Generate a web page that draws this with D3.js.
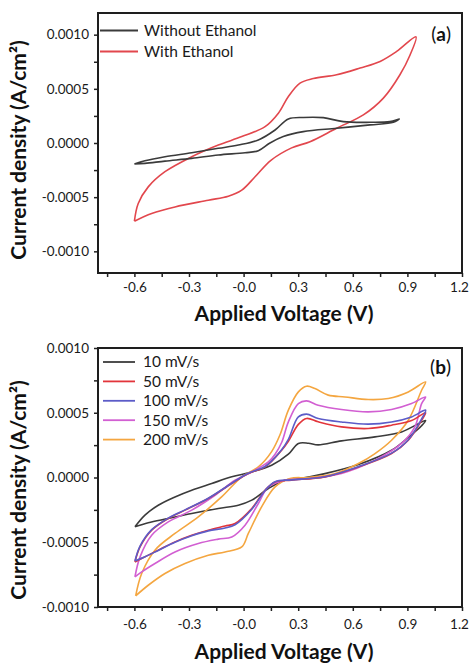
<!DOCTYPE html>
<html>
<head>
<meta charset="utf-8">
<script src="https://cdn.jsdelivr.net/npm/d3@7"></script>
<style>
  html, body { margin: 0; padding: 0; background: #fff; }
  svg { display: block; }
  text { font-family: Lato, "Open Sans", sans-serif; }
</style>
</head>
<body>
<svg id="chart" width="469" height="663"></svg>
<script>
// ---- axis ticks and labels ----
const xTicks = [-0.75, -0.6, -0.45, -0.3, -0.15, 0, 0.15, 0.3, 0.45, 0.6, 0.75, 0.9, 1.05, 1.2];
const xLabelValues = [-0.6, -0.3, 0, 0.3, 0.6, 0.9, 1.2];
const xLabels = ["-0.6", "-0.3", "-0.0", "0.3", "0.6", "0.9", "1.2"];
const yTicks = [-0.001, -0.00075, -0.0005, -0.00025, 0, 0.00025, 0.0005, 0.00075, 0.001];
const yLabelValues = [0.001, 0.0005, 0, -0.0005, -0.001];
const yLabels = ["0.0010", "0.0005", "0.0000", "-0.0005", "-0.0010"];

// ---- panel (a): with / without ethanol (closed CV loops, V vs A/cm²) ----
const seriesA = ["Without Ethanol", "With Ethanol"];
const voltWithout = [-0.6, -0.542, -0.432, -0.285, -0.139, -0.029, 0.081, 0.173, 0.246, 0.328, 0.438, 0.548, 0.695, 0.804, 0.856,
  0.823, 0.695, 0.511, 0.328, 0.218, 0.145, 0.081, 0.008, -0.139, -0.285, -0.432, -0.542, -0.6];
const currWithout = [-0.000194, -0.000164, -0.000127, -0.00009, -0.000049, -0.000019, 0.000028, 0.00012, 0.000222, 0.000236, 0.000234, 0.000197, 0.000191, 0.000197, 0.000222,
  0.000191, 0.000167, 0.000136, 0.000105, 0.000059, 0.0, -0.000071, -0.00009, -0.000111, -0.000142, -0.000167, -0.000188, -0.000194];
const voltWith = [-0.6, -0.579, -0.524, -0.432, -0.285, -0.139, -0.01, 0.118, 0.191, 0.246, 0.31, 0.383, 0.511, 0.64, 0.75, 0.841, 0.947,
  0.914, 0.859, 0.768, 0.658, 0.511, 0.365, 0.264, 0.15, 0.063, -0.01, -0.084, -0.194, -0.377, -0.505, -0.6];
const currWith = [-0.000722, -0.000559, -0.000405, -0.000265, -0.000127, -0.000019, 0.000059, 0.000151, 0.000275, 0.000429, 0.000553, 0.000595, 0.00063, 0.000692, 0.000753, 0.000845, 0.00098,
  0.00081, 0.00063, 0.000414, 0.000259, 0.000136, 0.000012, -0.000045, -0.00016, -0.000312, -0.000435, -0.000491, -0.000528, -0.00059, -0.000651, -0.000722];

// ---- panel (b): scan-rate series ----
const seriesB = ["10 mV/s", "50 mV/s", "100 mV/s", "150 mV/s", "200 mV/s"];
const volt10 = [-0.597, -0.542, -0.469, -0.377, -0.285, -0.175, -0.065, 0.045, 0.154, 0.246, 0.301, 0.356, 0.41, 0.538, 0.722, 0.868, 1.0,
  0.978, 0.905, 0.813, 0.631, 0.447, 0.3, 0.227, 0.136, 0.045, -0.029, -0.139, -0.285, -0.414, -0.524, -0.597];
const curr10 = [-0.000381, -0.000291, -0.000214, -0.00015, -0.000098, -0.000046, 0.000005, 0.000043, 0.000095, 0.00018, 0.000263, 0.000265, 0.000252, 0.000283, 0.000314, 0.000352, 0.00044,
  0.0004, 0.00031, 0.00021, 0.0001, 0.00003, -0.00001, -0.000021, -0.000085, -0.000175, -0.000214, -0.000239, -0.000278, -0.000317, -0.00035, -0.000381];
const volt50 = [-0.597, -0.569, -0.505, -0.414, -0.322, -0.194, -0.065, 0.026, 0.118, 0.209, 0.246, 0.301, 0.346, 0.41, 0.538, 0.685, 0.813, 0.923, 1.0,
  0.978, 0.905, 0.813, 0.631, 0.447, 0.264, 0.173, 0.118, 0.045, -0.047, -0.102, -0.194, -0.285, -0.377, -0.469, -0.542, -0.597];
const curr50 = [-0.000652, -0.000536, -0.000407, -0.000317, -0.000252, -0.000162, -0.000046, 0.000031, 0.000082, 0.000211, 0.00028, 0.00041, 0.000456, 0.00043, 0.000391, 0.000378, 0.000404, 0.00044, 0.0005,
  0.000442, 0.000288, 0.000185, 0.000082, 0.000005, -0.00002, -0.000034, -0.000098, -0.000239, -0.000355, -0.000375, -0.000407, -0.000446, -0.000497, -0.000561, -0.000613, -0.000652];
const volt100 = [-0.597, -0.569, -0.505, -0.414, -0.322, -0.194, -0.065, 0.026, 0.118, 0.209, 0.246, 0.301, 0.346, 0.41, 0.538, 0.685, 0.813, 0.923, 1.0,
  0.978, 0.905, 0.813, 0.631, 0.447, 0.264, 0.173, 0.118, 0.045, -0.047, -0.102, -0.194, -0.285, -0.377, -0.469, -0.542, -0.597];
const curr100 = [-0.000645, -0.00053, -0.000403, -0.000314, -0.00025, -0.00016, -0.000044, 0.000033, 0.000085, 0.000215, 0.000295, 0.000468, 0.000489, 0.000456, 0.000429, 0.000412, 0.000429, 0.000468, 0.00052,
  0.000452, 0.000292, 0.000188, 0.000084, 0.000006, -0.000018, -0.000032, -0.0001, -0.000245, -0.000365, -0.00039, -0.000412, -0.00045, -0.0005, -0.000563, -0.000612, -0.000645];
const volt150 = [-0.597, -0.569, -0.505, -0.414, -0.285, -0.157, -0.047, 0.045, 0.136, 0.173, 0.209, 0.246, 0.301, 0.346, 0.41, 0.538, 0.685, 0.813, 0.923, 1.0,
  0.978, 0.941, 0.868, 0.722, 0.538, 0.355, 0.227, 0.136, 0.081, 0.008, -0.065, -0.139, -0.249, -0.377, -0.487, -0.56, -0.597];
const curr150 = [-0.000768, -0.000613, -0.000446, -0.000343, -0.000252, -0.000137, -0.000021, 0.000043, 0.00012, 0.00018, 0.00027, 0.00043, 0.000571, 0.000592, 0.000558, 0.000525, 0.000507, 0.000525, 0.000571, 0.000622,
  0.000571, 0.000391, 0.000263, 0.000134, 0.000031, -0.00001, -0.000021, -0.000073, -0.000201, -0.000368, -0.000459, -0.000476, -0.00051, -0.000575, -0.000664, -0.000729, -0.000768];
const volt200 = [-0.593, -0.56, -0.487, -0.377, -0.249, -0.121, -0.01, 0.081, 0.154, 0.2, 0.246, 0.301, 0.346, 0.392, 0.465, 0.557, 0.685, 0.795, 0.905, 1.0,
  0.978, 0.905, 0.813, 0.722, 0.631, 0.504, 0.355, 0.255, 0.173, 0.099, 0.026, -0.01, -0.102, -0.194, -0.322, -0.432, -0.524, -0.593];
const curr200 = [-0.000914, -0.000741, -0.000561, -0.000432, -0.000304, -0.00015, 0.000005, 0.000082, 0.0002, 0.00033, 0.00052, 0.000661, 0.000705, 0.000687, 0.000636, 0.000622, 0.000602, 0.00061, 0.000661, 0.000738,
  0.000674, 0.000442, 0.000288, 0.000185, 0.000108, 0.000031, 0.0, -0.000008, -0.000073, -0.000227, -0.000432, -0.000536, -0.000575, -0.0006, -0.000664, -0.000741, -0.000832, -0.000914];

const svg = d3.select("#chart");

function drawPanel(cfg) {
  const { x0, x1, y0, y1, yDomain, curves, tag, titleY, tickLabelY, legend } = cfg;
  const x = d3.scaleLinear().domain([-0.8, 1.2]).range([x0, x1]);
  const y = d3.scaleLinear().domain(yDomain).range([y1, y0]);
  const g = svg.append("g");

  // curves
  const line = d3.line()
    .x(d => x(d[0]))
    .y(d => y(d[1]))
    .curve(d3.curveCatmullRom.alpha(0.5));
  curves.forEach(c => {
    g.append("path")
      .datum(d3.zip(c.v, c.i))
      .attr("d", line)
      .attr("fill", "none")
      .attr("stroke", c.color)
      .attr("stroke-width", 1.6)
      .attr("stroke-linejoin", "round");
  });

  // axes with outward ticks
  const isLabel = (vals, v) => vals.findIndex(t => Math.abs(t - v) < 1e-9);
  const xAxis = d3.axisBottom(x).tickValues(xTicks).tickSize(4).tickPadding(7)
    .tickFormat(v => { const k = isLabel(xLabelValues, v); return k >= 0 ? xLabels[k] : ""; });
  const yAxis = d3.axisLeft(y).tickValues(yTicks).tickSize(4).tickPadding(5)
    .tickFormat(v => { const k = isLabel(yLabelValues, v); return k >= 0 ? yLabels[k] : ""; });

  const gx = g.append("g").attr("transform", `translate(0,${y1})`).call(xAxis);
  const gy = g.append("g").attr("transform", `translate(${x0},0)`).call(yAxis);
  [gx, gy].forEach(a => {
    a.select(".domain").remove();
    a.selectAll(".tick line").attr("stroke", "#222").attr("stroke-width", 1.5);
    a.selectAll(".tick text").attr("fill", "#1a1a1a").style("font-size", "13.5px")
      .style("font-family", "Lato, 'Open Sans', sans-serif");
  });
  // the last label sits on the right frame edge: nudge it inward so it stays on the page
  gx.selectAll(".tick text").attr("y", null).attr("dy", null)
    .attr("transform", d => `translate(${Math.abs(d - 1.2) < 1e-9 ? -3 : 0},${tickLabelY - y1})`);

  // frame
  g.append("rect")
    .attr("x", x0).attr("y", y0)
    .attr("width", x1 - x0).attr("height", y1 - y0)
    .attr("fill", "none").attr("stroke", "#1e1e1e").attr("stroke-width", 2);

  // axis titles
  g.append("text")
    .attr("x", (x0 + x1) / 2 + 4).attr("y", titleY)
    .attr("text-anchor", "middle")
    .style("font-size", "21px").style("font-weight", "bold").attr("fill", "#111")
    .text("Applied Voltage (V)");
  g.append("text")
    .attr("transform", `translate(26,${cfg.yTitleCenter}) rotate(-90)`)
    .attr("text-anchor", "middle")
    .style("font-size", "21px").style("font-weight", "bold").attr("fill", "#111")
    .text("Current density (A/cm²)");

  // panel tag
  const t = g.append("text")
    .attr("x", 451).attr("y", cfg.tagY)
    .attr("text-anchor", "end")
    .style("font-size", "19px").attr("fill", "#111");
  t.append("tspan").text("(");
  t.append("tspan").style("font-weight", "bold").text(tag);
  t.append("tspan").text(")");

  // legend
  legend.rows.forEach((r, k) => {
    const ly = legend.y + k * legend.step;
    g.append("line")
      .attr("x1", legend.lx0).attr("x2", legend.lx1)
      .attr("y1", ly).attr("y2", ly)
      .attr("stroke", r.color).attr("stroke-width", 1.8);
    g.append("text")
      .attr("x", legend.tx).attr("y", ly + 1.5)
      .attr("dominant-baseline", "middle")
      .style("font-size", "15.5px").attr("fill", "#1a1a1a")
      .text(r.name);
  });
}

const colA = ["#3b3b3b", "#e2474d"];
drawPanel({
  x0: 98, x1: 462, y0: 13, y1: 273,
  yDomain: [-0.0012, 0.0012],
  curves: [
    { v: voltWith, i: currWith, color: colA[1] },
    { v: voltWithout, i: currWithout, color: colA[0] }
  ],
  tag: "a", tagY: 40.5,
  titleY: 321, tickLabelY: 291.5, yTitleCenter: 150,
  legend: { y: 30.5, step: 21, lx0: 100, lx1: 138, tx: 144,
    rows: seriesA.map((n, k) => ({ name: n, color: colA[k] })) }
});

const colB = ["#3b3b3b", "#e2353b", "#5c5cc8", "#d25fd2", "#f4a640"];
drawPanel({
  x0: 98, x1: 462, y0: 348, y1: 607,
  yDomain: [-0.001, 0.001],
  curves: [
    { v: volt10, i: curr10, color: colB[0] },
    { v: volt200, i: curr200, color: colB[4] },
    { v: volt150, i: curr150, color: colB[3] },
    { v: volt50, i: curr50, color: colB[1] },
    { v: volt100, i: curr100, color: colB[2] }
  ],
  tag: "b", tagY: 373.5,
  titleY: 659, tickLabelY: 629, yTitleCenter: 490,
  legend: { y: 362, step: 19.4, lx0: 103, lx1: 135, tx: 143,
    rows: seriesB.map((n, k) => ({ name: n, color: colB[k] })) }
});
</script>
</body>
</html>
